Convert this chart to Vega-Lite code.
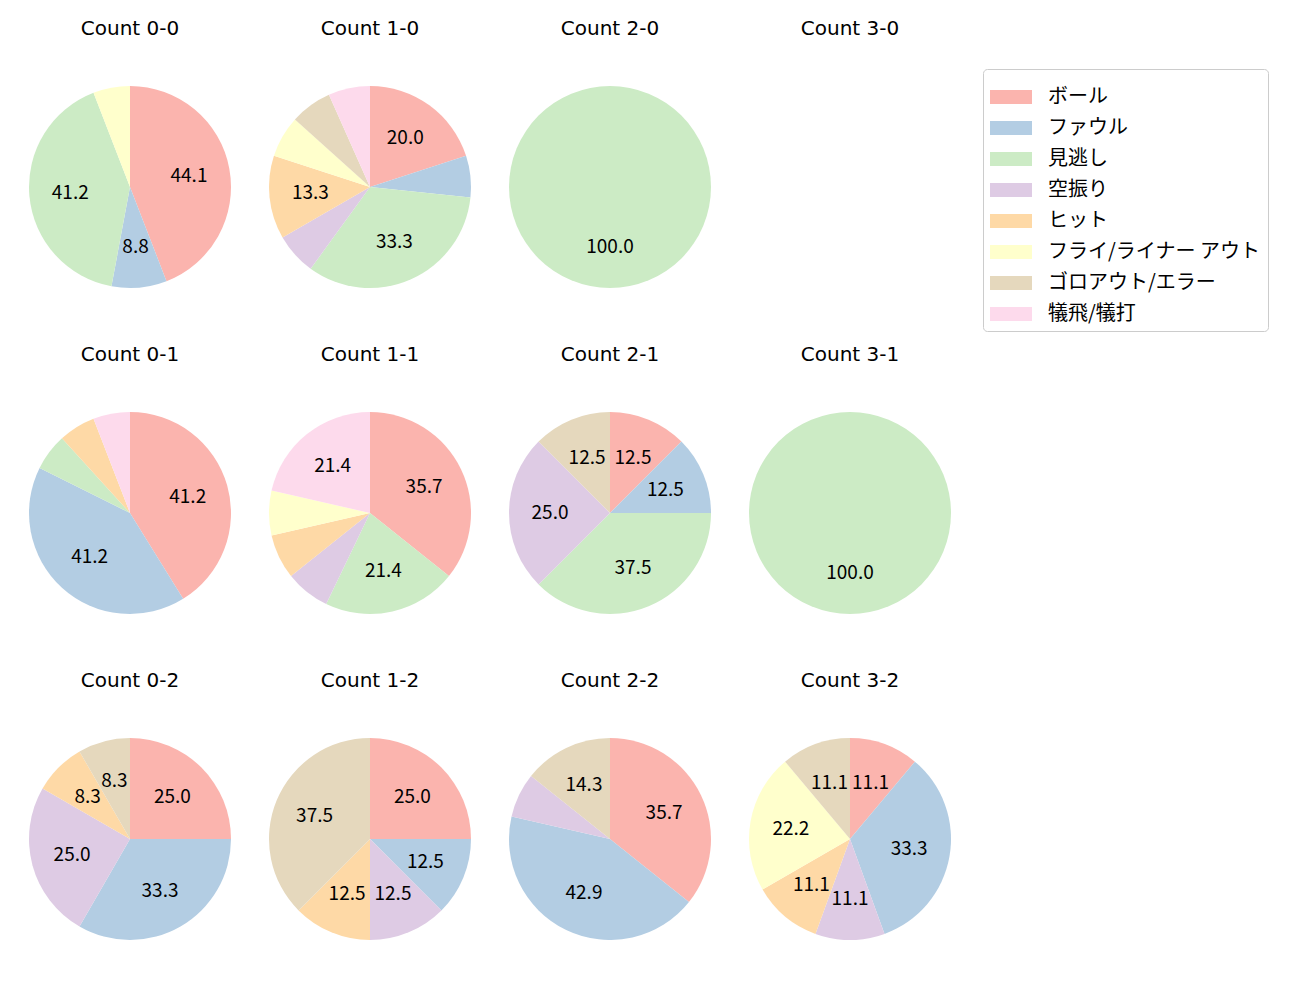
{
  "$schema": "https://vega.github.io/schema/vega-lite/v6.json",
  "padding": {"left": 29, "top": 19, "right": 0, "bottom": 0},
  "background": "white",
  "config": {"font": "Noto Sans CJK JP", "view": {"stroke": null}},
  "data": {"values": [
    {"count": "Count 0-0", "result": "ボール", "n": 15},
    {"count": "Count 0-0", "result": "ファウル", "n": 3},
    {"count": "Count 0-0", "result": "見逃し", "n": 14},
    {"count": "Count 0-0", "result": "フライ/ライナー アウト", "n": 2},
    {"count": "Count 1-0", "result": "ボール", "n": 3},
    {"count": "Count 1-0", "result": "ファウル", "n": 1},
    {"count": "Count 1-0", "result": "見逃し", "n": 5},
    {"count": "Count 1-0", "result": "空振り", "n": 1},
    {"count": "Count 1-0", "result": "ヒット", "n": 2},
    {"count": "Count 1-0", "result": "フライ/ライナー アウト", "n": 1},
    {"count": "Count 1-0", "result": "ゴロアウト/エラー", "n": 1},
    {"count": "Count 1-0", "result": "犠飛/犠打", "n": 1},
    {"count": "Count 2-0", "result": "見逃し", "n": 1},
    {"count": "Count 3-0", "result": "ボール", "n": 0},
    {"count": "Count 0-1", "result": "ボール", "n": 7},
    {"count": "Count 0-1", "result": "ファウル", "n": 7},
    {"count": "Count 0-1", "result": "見逃し", "n": 1},
    {"count": "Count 0-1", "result": "ヒット", "n": 1},
    {"count": "Count 0-1", "result": "犠飛/犠打", "n": 1},
    {"count": "Count 1-1", "result": "ボール", "n": 5},
    {"count": "Count 1-1", "result": "見逃し", "n": 3},
    {"count": "Count 1-1", "result": "空振り", "n": 1},
    {"count": "Count 1-1", "result": "ヒット", "n": 1},
    {"count": "Count 1-1", "result": "フライ/ライナー アウト", "n": 1},
    {"count": "Count 1-1", "result": "犠飛/犠打", "n": 3},
    {"count": "Count 2-1", "result": "ボール", "n": 1},
    {"count": "Count 2-1", "result": "ファウル", "n": 1},
    {"count": "Count 2-1", "result": "見逃し", "n": 3},
    {"count": "Count 2-1", "result": "空振り", "n": 2},
    {"count": "Count 2-1", "result": "ゴロアウト/エラー", "n": 1},
    {"count": "Count 3-1", "result": "見逃し", "n": 1},
    {"count": "Count 0-2", "result": "ボール", "n": 3},
    {"count": "Count 0-2", "result": "ファウル", "n": 4},
    {"count": "Count 0-2", "result": "空振り", "n": 3},
    {"count": "Count 0-2", "result": "ヒット", "n": 1},
    {"count": "Count 0-2", "result": "ゴロアウト/エラー", "n": 1},
    {"count": "Count 1-2", "result": "ボール", "n": 2},
    {"count": "Count 1-2", "result": "ファウル", "n": 1},
    {"count": "Count 1-2", "result": "空振り", "n": 1},
    {"count": "Count 1-2", "result": "ヒット", "n": 1},
    {"count": "Count 1-2", "result": "ゴロアウト/エラー", "n": 3},
    {"count": "Count 2-2", "result": "ボール", "n": 5},
    {"count": "Count 2-2", "result": "ファウル", "n": 6},
    {"count": "Count 2-2", "result": "空振り", "n": 1},
    {"count": "Count 2-2", "result": "ゴロアウト/エラー", "n": 2},
    {"count": "Count 3-2", "result": "ボール", "n": 1},
    {"count": "Count 3-2", "result": "ファウル", "n": 3},
    {"count": "Count 3-2", "result": "空振り", "n": 1},
    {"count": "Count 3-2", "result": "ヒット", "n": 1},
    {"count": "Count 3-2", "result": "フライ/ライナー アウト", "n": 2},
    {"count": "Count 3-2", "result": "ゴロアウト/エラー", "n": 1}
  ]},
  "transform": [
    {"joinaggregate": [{"op": "sum", "field": "n", "as": "total"}], "groupby": ["count"]},
    {"calculate": "datum.total > 0 ? 100 * datum.n / datum.total : 0", "as": "pct"},
    {"calculate": "datum.pct > 7.5 ? format(datum.pct, '.1f') : ''", "as": "label"},
    {"calculate": "indexof(['ボール','ファウル','見逃し','空振り','ヒット','フライ/ライナー アウト','ゴロアウト/エラー','犠飛/犠打'], datum.result)", "as": "k"}
  ],
  "facet": {
    "field": "count",
    "type": "nominal",
    "sort": ["Count 0-0", "Count 1-0", "Count 2-0", "Count 3-0", "Count 0-1", "Count 1-1", "Count 2-1", "Count 3-1", "Count 0-2", "Count 1-2", "Count 2-2", "Count 3-2"],
    "header": {"title": null, "labelFontSize": 20, "labelColor": "black", "labelPadding": 47, "labelFont": "DejaVu Sans"}
  },
  "columns": 4,
  "spacing": {"column": 38, "row": 57},
  "spec": {
    "width": 200,
    "height": 200,
    "encoding": {
      "theta": {"field": "pct", "type": "quantitative", "stack": true, "scale": {"domain": [0, 100]}},
      "order": {"field": "k", "type": "quantitative"}
    },
    "layer": [
      {
        "mark": {"type": "arc", "outerRadius": 101},
        "encoding": {
          "color": {
            "field": "result",
            "type": "nominal",
            "scale": {
              "domain": ["ボール", "ファウル", "見逃し", "空振り", "ヒット", "フライ/ライナー アウト", "ゴロアウト/エラー", "犠飛/犠打"],
              "range": ["#fbb4ae", "#b3cde3", "#ccebc5", "#decbe4", "#fed9a6", "#ffffcc", "#e5d8bd", "#fddaec"]
            },
            "legend": {
              "title": null,
              "orient": "none",
              "legendX": 953,
              "legendY": -18,
              "symbolType": "M-1,-0.33H1V0.33H-1Z",
              "symbolSize": 1764,
              "symbolStrokeWidth": 0,
              "labelFontSize": 20,
              "labelLimit": 400,
              "labelColor": "black",
              "labelOffset": 16,
              "rowPadding": -1,
              "padding": 7,
              "strokeColor": "#cccccc",
              "fillColor": "white",
              "cornerRadius": 4
            }
          }
        }
      },
      {
        "mark": {"type": "text", "radius": 60, "fontSize": 19, "color": "black"},
        "encoding": {"text": {"field": "label", "type": "nominal"}}
      }
    ]
  }
}
